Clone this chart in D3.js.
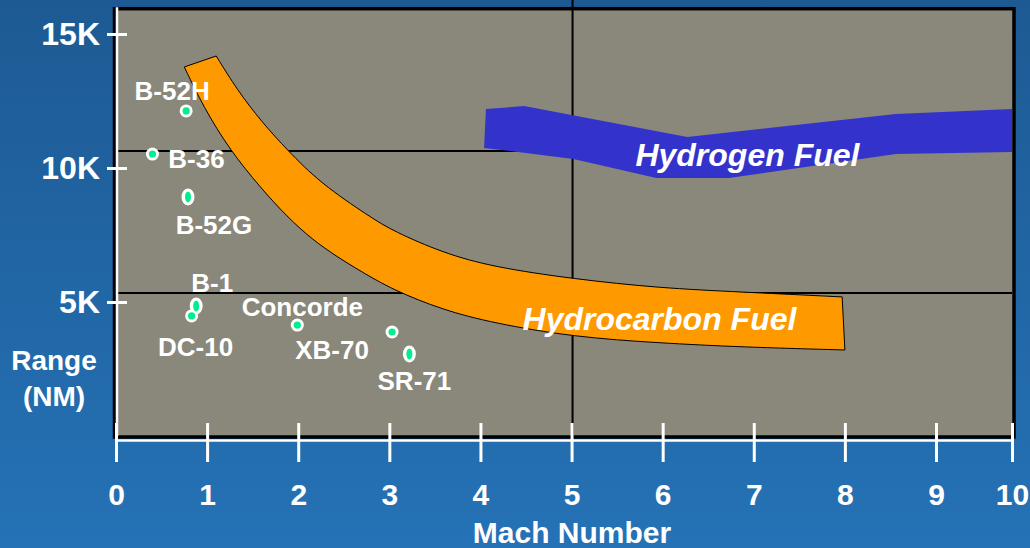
<!DOCTYPE html>
<html>
<head>
<meta charset="utf-8">
<script src="https://cdn.jsdelivr.net/npm/d3@7"></script>
<style>
  html, body { margin: 0; padding: 0; overflow: hidden; }
  body { width: 1030px; height: 548px; }
  text { font-family: Arial, "Liberation Sans", sans-serif; font-weight: bold; fill: #fff; }
</style>
</head>
<body>
<div id="chart"></div>
<script>
// aircraft
const aircraft = ["B-52H", "B-36", "B-52G", "B-1", "DC-10", "Concorde", "XB-70", "SR-71"];
const aircraftMach = [0.77, 0.40, 0.79, 0.88, 0.83, 1.99, 3.03, 3.22];
const aircraftRange = [12130, 10520, 8920, 4850, 4480, 4140, 3880, 3060];

// hydrocarbon fuel band, outer and inner edge
const hcUpperMach = [1.10, 1.33, 1.60, 1.88, 2.24, 2.79, 3.04, 3.59, 4.14, 5.02, 5.97, 6.85, 7.97];
const hcUpperRange = [14180, 12910, 11715, 10670, 9440, 8170, 7650, 6830, 6305, 5860, 5520, 5375, 5190];
const hcLowerMach = [0.75, 0.96, 1.25, 1.58, 1.88, 2.16, 2.43, 2.68, 3.04, 3.59, 4.14, 5.02, 5.97, 6.85, 8.00];
const hcLowerRange = [13770, 12275, 10670, 9290, 8170, 7315, 6680, 6160, 5450, 4700, 4215, 3695, 3470, 3320, 3210];

// hydrogen fuel band
const h2UpperMach = [4.06, 4.48, 6.27, 8.56, 10];
const h2UpperRange = [12200, 12310, 11160, 12015, 12200];
const h2LowerMach = [10, 8.56, 6.73, 5.93, 5.02, 4.04];
const h2LowerRange = [10600, 10520, 9630, 9630, 10340, 10750];

// axes
const machTicks = [0, 1, 2, 3, 4, 5, 6, 7, 8, 9, 10];
const rangeTicks = [5000, 10000, 15000];
const rangeTickLabels = ["5K", "10K", "15K"];
const gridMach = [5];
const gridRange = [5340, 10630];

const width = 1030, height = 548;

const x = d3.scaleLinear().domain([0, 9, 10]).range([116, 936, 1012]);
const y = d3.scaleLinear().domain([0, 15000]).range([436, 34]);
const yTop = 16000;

const svg = d3.select("#chart").append("svg")
    .attr("width", width)
    .attr("height", height);

const defs = svg.append("defs");
const grad = defs.append("linearGradient")
    .attr("id", "bg").attr("x1", 0).attr("y1", 0).attr("x2", 0).attr("y2", 1);
grad.append("stop").attr("offset", "0%").attr("stop-color", "#1d5a93");
grad.append("stop").attr("offset", "100%").attr("stop-color", "#2572b6");

svg.append("rect")
    .attr("width", width).attr("height", height)
    .attr("fill", "url(#bg)");

// plot area
svg.append("rect")
    .attr("x", x(0)).attr("y", y(yTop))
    .attr("width", x(10) - x(0) + 1).attr("height", y(0) - y(yTop))
    .attr("fill", "#8a877b");

// grid
svg.selectAll(".hgrid")
    .data(gridRange)
    .enter().append("line")
    .attr("x1", x(0)).attr("x2", x(10))
    .attr("y1", d => y(d)).attr("y2", d => y(d))
    .style("stroke", "#000").style("stroke-width", 2);

svg.selectAll(".vgrid")
    .data(gridMach)
    .enter().append("line")
    .attr("x1", d => x(d) + 1).attr("x2", d => x(d) + 1)
    .attr("y1", 0).attr("y2", y(0))
    .style("stroke", "#000").style("stroke-width", 2);

// bands
const zip = (a, b) => a.map((v, i) => [v, b[i]]);

function bandPath(upper, lower, curve) {
    const line = d3.line()
        .x(d => x(d[0]))
        .y(d => y(d[1]))
        .curve(curve);
    return line(upper) + line(lower).replace(/^M/, "L") + "Z";
}

svg.append("path")
    .attr("d", bandPath(zip(hcUpperMach, hcUpperRange),
        zip(hcLowerMach, hcLowerRange).reverse(), d3.curveBasis))
    .style("fill", "#ff9900")
    .style("stroke", "#000")
    .style("stroke-width", 1);

svg.append("path")
    .attr("d", bandPath(zip(h2UpperMach, h2UpperRange),
        zip(h2LowerMach, h2LowerRange), d3.curveLinear))
    .style("fill", "#3333cc");

svg.append("text")
    .attr("x", x(6.93)).attr("y", y(10075))
    .attr("text-anchor", "middle")
    .style("font-size", "32px").style("font-style", "italic")
    .text("Hydrogen Fuel");

svg.append("text")
    .attr("x", x(5.965)).attr("y", y(3955))
    .attr("text-anchor", "middle")
    .style("font-size", "32px").style("font-style", "italic")
    .text("Hydrocarbon Fuel");

// aircraft markers
const points = aircraft.map((name, i) => ({ name, mach: aircraftMach[i], range: aircraftRange[i] }));
const tall = new Set(["B-52G", "B-1", "SR-71"]);
const labelOffset = {
    "B-52H": [-14, -11], "B-36": [44, 14], "B-52G": [26, 37], "B-1": [16, -14],
    "DC-10": [4, 40], "Concorde": [5, -9], "XB-70": [-60, 27], "SR-71": [5, 36]
};

svg.selectAll(".dot-out")
    .data(points)
    .enter().append("ellipse")
    .attr("cx", d => x(d.mach)).attr("cy", d => y(d.range))
    .attr("rx", 6.5).attr("ry", d => tall.has(d.name) ? 8.5 : 6.5)
    .style("fill", "#fff");

svg.selectAll(".dot-in")
    .data(points)
    .enter().append("ellipse")
    .attr("cx", d => x(d.mach)).attr("cy", d => y(d.range))
    .attr("rx", d => tall.has(d.name) ? 3 : 3.6).attr("ry", d => tall.has(d.name) ? 5.5 : 3.6)
    .style("fill", "#00ee8c");

svg.selectAll(".plabel")
    .data(points)
    .enter().append("text")
    .attr("x", d => x(d.mach) + labelOffset[d.name][0])
    .attr("y", d => y(d.range) + labelOffset[d.name][1])
    .attr("text-anchor", "middle")
    .style("font-size", "26px")
    .text(d => d.name);

// frame
svg.append("rect")
    .attr("x", x(0) - 1.5).attr("y", y(yTop) + 1.5)
    .attr("width", x(10) - x(0) + 3.5).attr("height", y(0) - y(yTop) - 0.5)
    .style("fill", "none")
    .style("stroke", "#000")
    .style("stroke-width", 3.5);

// x axis
const xAxis = svg.append("g")
    .attr("transform", "translate(0,440)")
    .call(d3.axisBottom(x).tickValues(machTicks).tickSize(22).tickSizeOuter(0));

xAxis.select(".domain").style("stroke", "#fff").style("stroke-width", 2.5);
xAxis.selectAll(".tick line")
    .attr("y1", -17)
    .style("stroke", "#fff").style("stroke-width", 3);
xAxis.selectAll(".tick text")
    .attr("y", 65).attr("dy", null)
    .style("font-size", "30px")
    .style("font-family", "Arial, 'Liberation Sans', sans-serif")
    .style("fill", "#fff");

// y axis
svg.append("line")
    .attr("x1", 117).attr("x2", 117)
    .attr("y1", y(yTop)).attr("y2", y(0))
    .style("stroke", "#fff").style("stroke-width", 2.5);

const yAxis = svg.append("g")
    .attr("transform", "translate(117,0)")
    .call(d3.axisLeft(y).tickValues(rangeTicks)
        .tickFormat((d, i) => rangeTickLabels[i])
        .tickSize(10).tickPadding(7));

yAxis.select(".domain").remove();
yAxis.selectAll(".tick line")
    .attr("x1", 10)
    .style("stroke", "#fff").style("stroke-width", 3);
yAxis.selectAll(".tick text")
    .style("font-size", "32px")
    .style("font-family", "Arial, 'Liberation Sans', sans-serif")
    .style("fill", "#fff");

// titles
svg.append("text")
    .attr("x", 572).attr("y", 543)
    .attr("text-anchor", "middle")
    .style("font-size", "30px")
    .text("Mach Number");

svg.append("text")
    .attr("x", 54).attr("y", 370)
    .attr("text-anchor", "middle")
    .style("font-size", "28px")
    .text("Range");

svg.append("text")
    .attr("x", 54).attr("y", 406)
    .attr("text-anchor", "middle")
    .style("font-size", "28px")
    .text("(NM)");
</script>
</body>
</html>
